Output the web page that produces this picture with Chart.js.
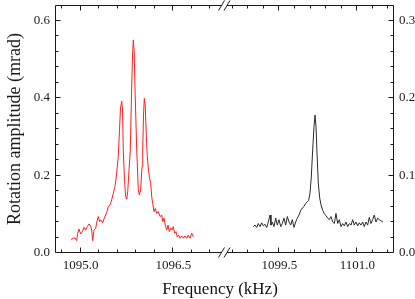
<!DOCTYPE html>
<html lang="en">
<head>
<meta charset="UTF-8" />
<title>Rotation amplitude vs frequency</title>
<script src="https://cdn.jsdelivr.net/npm/chart.js"></script>
<style>
  body { margin: 0; background: #fff; }
  .wrap { position: relative; width: 415px; height: 299px; }
  .wrap canvas { position: absolute; left: 0; top: 0; }
  .xtitle {
    position: absolute; left: 20px; width: 400px; top: 279px;
    text-align: center; font: 17px "Liberation Serif"; color: #111;
  }
</style>
</head>
<body>
<div class="wrap">
  <canvas id="leftChart" width="415" height="299"></canvas>
  <canvas id="rightChart" width="415" height="299"></canvas>
  <div class="xtitle">Frequency (kHz)</div>
</div>

<script>
  // left panel (red trace), frequency in kHz, amplitude in mrad
  const leftFreq = [
    1094.843, 1094.880, 1094.908, 1094.935, 1094.951, 1094.972, 1095.000, 1095.026,
    1095.053, 1095.081, 1095.107, 1095.135, 1095.162, 1095.178, 1095.194, 1095.216,
    1095.243, 1095.269, 1095.285, 1095.308, 1095.329, 1095.357, 1095.382, 1095.405,
    1095.426, 1095.447, 1095.475, 1095.502, 1095.528, 1095.556, 1095.583, 1095.609,
    1095.629, 1095.645, 1095.665, 1095.678, 1095.690, 1095.710, 1095.729, 1095.746,
    1095.762, 1095.783, 1095.804, 1095.823, 1095.840, 1095.853, 1095.867, 1095.883,
    1095.908, 1095.934, 1095.950, 1095.972, 1095.994, 1096.005, 1096.018, 1096.031,
    1096.045, 1096.063, 1096.079, 1096.096, 1096.115, 1096.134, 1096.151, 1096.167,
    1096.188, 1096.209, 1096.232, 1096.258, 1096.285, 1096.313, 1096.329, 1096.350,
    1096.371, 1096.394, 1096.415, 1096.436, 1096.459, 1096.480, 1096.501, 1096.523,
    1096.545, 1096.566, 1096.588, 1096.609, 1096.637, 1096.663, 1096.690, 1096.718,
    1096.744, 1096.771, 1096.799, 1096.825
  ];
  const leftAmp = [
    0.035, 0.038, 0.039, 0.032, 0.051, 0.062, 0.049, 0.055,
    0.066, 0.059, 0.068, 0.075, 0.070, 0.059, 0.032, 0.059,
    0.064, 0.085, 0.094, 0.081, 0.085, 0.078, 0.090, 0.098,
    0.107, 0.119, 0.124, 0.137, 0.154, 0.171, 0.206, 0.249,
    0.317, 0.374, 0.392, 0.369, 0.266, 0.188, 0.145, 0.139,
    0.158, 0.214, 0.266, 0.408, 0.511, 0.550, 0.519, 0.408,
    0.266, 0.163, 0.150, 0.163, 0.223, 0.266, 0.356, 0.399,
    0.382, 0.305, 0.249, 0.219, 0.194, 0.180, 0.145, 0.128,
    0.107, 0.115, 0.102, 0.107, 0.094, 0.098, 0.081, 0.090,
    0.072, 0.059, 0.072, 0.055, 0.064, 0.059, 0.068, 0.051,
    0.055, 0.041, 0.046, 0.038, 0.044, 0.038, 0.044, 0.038,
    0.046, 0.038, 0.051, 0.042
  ];

  // right panel (black trace), amplitude on the right axis
  const rightFreq = [
    1099.000, 1099.033, 1099.065, 1099.096, 1099.129, 1099.162, 1099.192, 1099.225,
    1099.258, 1099.288, 1099.321, 1099.340, 1099.365, 1099.398, 1099.431, 1099.462,
    1099.494, 1099.527, 1099.558, 1099.590, 1099.623, 1099.654, 1099.687, 1099.719,
    1099.750, 1099.783, 1099.815, 1099.846, 1099.879, 1099.912, 1099.942, 1099.975,
    1100.008, 1100.038, 1100.065, 1100.090, 1100.115, 1100.142, 1100.167, 1100.187,
    1100.206, 1100.225, 1100.250, 1100.277, 1100.302, 1100.335, 1100.365, 1100.398,
    1100.431, 1100.462, 1100.494, 1100.527, 1100.558, 1100.590, 1100.623, 1100.654,
    1100.687, 1100.719, 1100.750, 1100.783, 1100.815, 1100.846, 1100.879, 1100.912,
    1100.942, 1100.975, 1101.008, 1101.038, 1101.071, 1101.104, 1101.135, 1101.167,
    1101.200, 1101.231, 1101.263, 1101.296, 1101.327, 1101.360, 1101.392, 1101.423,
    1101.494
  ];
  const rightAmp = [
    0.034, 0.036, 0.033, 0.038, 0.034, 0.039, 0.035, 0.037,
    0.033, 0.040, 0.049, 0.036, 0.040, 0.034, 0.045, 0.036,
    0.043, 0.034, 0.038, 0.045, 0.036, 0.047, 0.040, 0.036,
    0.043, 0.033, 0.040, 0.045, 0.049, 0.055, 0.058, 0.060,
    0.064, 0.066, 0.068, 0.077, 0.098, 0.133, 0.163, 0.178,
    0.163, 0.129, 0.090, 0.071, 0.062, 0.055, 0.051, 0.048,
    0.045, 0.043, 0.047, 0.040, 0.038, 0.051, 0.038, 0.043,
    0.034, 0.038, 0.035, 0.040, 0.034, 0.038, 0.036, 0.043,
    0.036, 0.040, 0.035, 0.039, 0.036, 0.040, 0.034, 0.040,
    0.036, 0.046, 0.038, 0.043, 0.049, 0.040, 0.045, 0.043,
    0.040
  ];

  const leftXTicks = [1095.0, 1096.5];
  const rightXTicks = [1099.5, 1101.0];
  const leftYTicks = [0.0, 0.2, 0.4, 0.6];
  const rightYTicks = [0.0, 0.1, 0.2, 0.3];

  const serif = "Liberation Serif";
  const tickFont = { family: serif, size: 13 };
  const ink = "#1a1a1a";

  // box, inward major/minor ticks and the axis break marks
  const frame = {
    id: "frame",
    afterDraw(chart, args, o) {
      const { ctx, chartArea: a } = chart;
      const xs = chart.scales.x, ys = chart.scales.y;
      const snap = (v) => Math.round(v) - 0.5;
      const top = snap(a.top) + 1, bot = snap(a.bottom);
      const isLeft = o.side === "left";
      const edge = isLeft ? snap(a.left) : snap(a.right);
      const x0 = isLeft ? edge : o.gapTo;
      const x1 = isLeft ? o.gapFrom : edge;

      ctx.save();
      ctx.strokeStyle = ink;
      ctx.lineWidth = 1;
      ctx.beginPath();
      ctx.moveTo(x0, top); ctx.lineTo(x1, top);
      ctx.moveTo(x0, bot); ctx.lineTo(x1, bot);
      ctx.moveTo(edge, top); ctx.lineTo(edge, bot);

      for (let k = 0; ; k++) {
        const v = o.xStart + k * o.xStep;
        if (v > xs.max + 1e-9) break;
        const major = o.xMajor.some((m) => Math.abs(m - v) < 1e-6);
        const len = major ? 5 : 3;
        const x = snap(xs.getPixelForValue(v));
        ctx.moveTo(x, bot); ctx.lineTo(x, bot - len);
        ctx.moveTo(x, top); ctx.lineTo(x, top + len);
      }
      for (let k = 0; ; k++) {
        const v = k * o.yStep;
        if (v > ys.max - 1e-9) break;
        const major = o.yMajor.some((m) => Math.abs(m - v) < 1e-6);
        const len = major ? 5 : 3;
        const y = snap(ys.getPixelForValue(v));
        ctx.moveTo(edge, y); ctx.lineTo(isLeft ? edge + len : edge - len, y);
      }
      if (isLeft) {
        [o.gapFrom, o.gapTo].forEach((bx) => {
          [top, bot].forEach((by) => {
            ctx.moveTo(bx - 3, by + 5);
            ctx.lineTo(bx + 3, by - 5);
          });
        });
      }
      ctx.stroke();
      ctx.restore();
    },
  };

  function xScale(min, max, ticks) {
    return {
      type: "linear",
      min: min,
      max: max,
      grid: { display: false, drawTicks: false },
      border: { display: false },
      afterBuildTicks: (s) => { s.ticks = ticks.map((v) => ({ value: v })); },
      afterFit: (s) => { s.height = 46; s.paddingLeft = 0; s.paddingRight = 0; },
      ticks: {
        font: tickFont, color: ink, padding: 5, maxRotation: 0, autoSkip: false,
        callback: (v) => v.toFixed(1),
      },
    };
  }

  function yScale(max, ticks, position, width) {
    return {
      type: "linear",
      position: position,
      min: 0,
      max: max,
      grid: { display: false, drawTicks: false },
      border: { display: false },
      afterBuildTicks: (s) => { s.ticks = ticks.map((v) => ({ value: v })); },
      afterFit: (s) => { s.width = width; s.paddingTop = 0; s.paddingBottom = 0; },
      ticks: {
        font: tickFont, color: ink, padding: position === "left" ? 6 : 5, autoSkip: false,
        callback: (v) => v.toFixed(1),
      },
    };
  }

  const leftY = yScale(0.64, leftYTicks, "left", 56);
  leftY.title = {
    display: true,
    text: "Rotation amplitude (mrad)",
    font: { family: serif, size: 18 },
    color: ink,
    padding: { top: 4, bottom: 0 },
  };

  new Chart(document.getElementById("leftChart"), {
    type: "line",
    data: {
      datasets: [{
        data: leftFreq.map((f, i) => ({ x: f, y: leftAmp[i] })),
        borderColor: "rgb(255, 30, 30)",
        borderWidth: 1,
        pointRadius: 0,
        tension: 0,
      }],
    },
    options: {
      responsive: false,
      animation: false,
      devicePixelRatio: 1,
      layout: { padding: { left: 0, top: 5, right: 192, bottom: 0 } },
      plugins: {
        legend: { display: false },
        tooltip: { enabled: false },
        frame: {
          side: "left", gapFrom: 221.5, gapTo: 227,
          xStart: 1094.7, xStep: 0.3, xMajor: leftXTicks,
          yStep: 0.04, yMajor: leftYTicks,
        },
      },
      scales: {
        x: xScale(1094.6, 1097.306, leftXTicks),
        y: leftY,
      },
    },
    plugins: [frame],
  });

  new Chart(document.getElementById("rightChart"), {
    type: "line",
    data: {
      datasets: [{
        data: rightFreq.map((f, i) => ({ x: f, y: rightAmp[i] })),
        borderColor: "#2a2a2a",
        borderWidth: 1,
        pointRadius: 0,
        tension: 0,
      }],
    },
    options: {
      responsive: false,
      animation: false,
      devicePixelRatio: 1,
      layout: { padding: { left: 223, top: 5, right: 0, bottom: 0 } },
      plugins: {
        legend: { display: false },
        tooltip: { enabled: false },
        frame: {
          side: "right", gapFrom: 221.5, gapTo: 227,
          xStart: 1098.6, xStep: 0.3, xMajor: rightXTicks,
          yStep: 0.02, yMajor: rightYTicks,
        },
      },
      scales: {
        x: xScale(1098.417, 1101.706, rightXTicks),
        y: yScale(0.32, rightYTicks, "right", 21),
      },
    },
    plugins: [frame],
  });
</script>
</body>
</html>
